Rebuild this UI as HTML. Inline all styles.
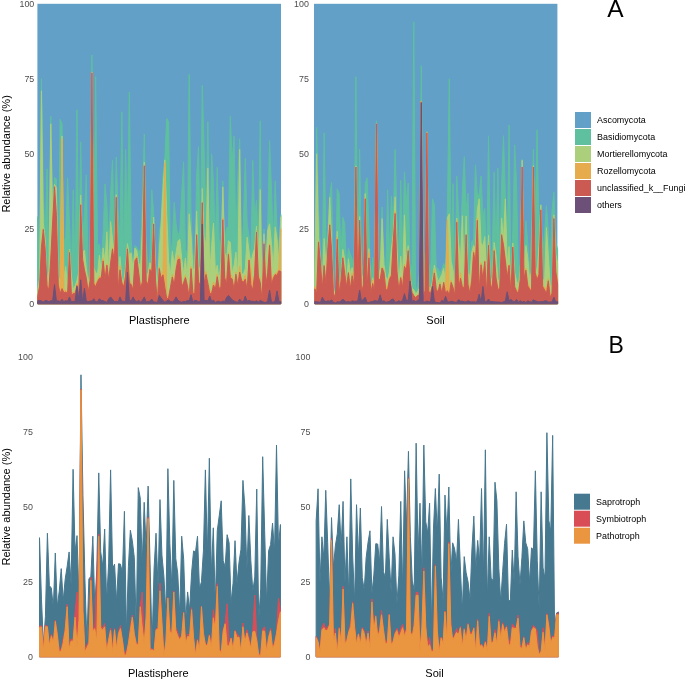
<!DOCTYPE html>
<html><head><meta charset="utf-8"><style>
html,body{margin:0;padding:0;background:#fff;}
body{width:685px;height:680px;overflow:hidden;}
svg{display:block;filter:blur(0.3px);}
text{font-family:"Liberation Sans", sans-serif;}
.tk{font-size:8.9px;fill:#4d4d4d;}
.ax{font-size:11px;fill:#000;}
.lg{font-size:8.95px;fill:#000;}
.tag{font-size:23px;fill:#000;}
</style></head><body>
<svg width="685" height="680" viewBox="0 0 685 680">
<g class="data" stroke-width="1" stroke-linejoin="round">
<rect x="37.4" y="3.8" width="243.60" height="300.00" fill="#62a0c8"/>
<path d="M37.70 303.80 37.70 216.70 39.57 272.96 41.44 78.80 43.31 193.54 45.18 237.01 47.05 168.80 48.92 267.05 50.79 116.30 52.66 213.77 54.53 177.55 56.40 178.83 58.27 273.30 60.14 119.30 62.01 123.80 63.88 242.38 65.75 236.54 67.62 177.80 69.49 223.09 71.36 270.69 73.23 189.80 75.10 274.49 76.97 109.70 78.84 253.11 80.71 141.80 82.58 240.39 84.45 212.85 86.32 174.80 88.19 275.63 90.06 264.74 91.93 54.80 93.80 237.42 95.67 76.70 97.54 247.65 99.41 243.80 101.28 259.93 103.15 233.20 105.02 183.80 106.89 204.20 108.76 241.07 110.63 193.46 112.50 160.40 114.37 241.67 116.24 156.80 118.11 209.76 119.98 241.58 121.85 111.80 123.72 263.37 125.59 149.30 127.46 223.64 129.33 92.00 131.20 239.58 133.07 267.50 134.94 245.56 136.81 247.00 138.68 251.34 140.55 249.47 142.42 203.37 144.29 134.00 146.16 241.51 148.03 267.80 149.90 255.84 151.77 189.80 153.64 212.91 155.51 262.04 157.38 285.80 159.25 232.94 161.12 220.92 162.99 175.50 164.86 157.70 166.73 118.40 168.60 122.00 170.47 261.05 172.34 240.80 174.21 202.30 176.08 224.04 177.95 236.66 179.82 230.57 181.69 193.40 183.56 161.76 185.43 249.80 187.30 253.00 189.17 74.30 191.04 214.32 192.91 254.12 194.78 262.06 196.65 176.00 198.52 146.73 200.39 259.98 202.26 85.40 204.13 149.30 206.00 221.55 207.87 121.84 209.74 256.65 211.61 153.80 213.48 183.34 215.35 240.42 217.22 167.24 219.09 238.61 220.96 245.89 222.83 180.80 224.70 242.54 226.57 227.86 228.44 226.66 230.31 116.30 232.18 162.09 234.05 136.10 235.92 236.42 237.79 180.44 239.66 138.80 241.53 259.96 243.40 223.50 245.27 158.30 247.14 223.16 249.01 236.44 250.88 257.52 252.75 160.40 254.62 217.69 256.49 200.24 258.36 241.69 260.23 120.80 262.10 294.80 263.97 229.03 265.84 262.57 267.71 225.15 269.58 140.60 271.45 188.18 273.32 242.57 275.19 180.80 277.06 231.09 278.93 249.61 280.80 214.51 280.80 303.80Z" fill="#5ec09e" stroke="#5ec09e"/>
<path d="M37.70 303.80 37.70 289.34 39.57 278.98 41.44 90.80 43.31 222.38 45.18 239.72 47.05 280.73 48.92 270.82 50.79 123.80 52.66 218.24 54.53 184.38 56.40 187.56 58.27 277.27 60.14 278.83 62.01 135.92 63.88 278.33 65.75 266.45 67.62 289.64 69.49 249.08 71.36 275.85 73.23 289.42 75.10 285.90 76.97 280.26 78.84 271.93 80.71 195.04 82.58 253.32 84.45 250.04 86.32 268.20 88.19 283.16 90.06 270.99 91.93 71.98 93.80 267.12 95.67 272.79 97.54 273.41 99.41 255.11 101.28 271.93 103.15 247.92 105.02 261.80 106.89 231.78 108.76 273.46 110.63 221.58 112.50 239.23 114.37 254.72 116.24 194.55 118.11 273.39 119.98 256.56 121.85 278.04 123.72 281.65 125.59 267.82 127.46 243.63 129.33 255.36 131.20 252.85 133.07 269.68 134.94 247.93 136.81 250.85 138.68 262.86 140.55 266.55 142.42 227.43 144.29 162.14 146.16 272.20 148.03 274.61 149.90 262.74 151.77 265.79 153.64 217.01 155.51 264.61 157.38 288.50 159.25 251.80 161.12 223.93 162.99 189.33 164.86 159.91 166.73 213.80 168.60 261.08 170.47 274.31 172.34 251.37 174.21 264.98 176.08 252.35 177.95 241.21 179.82 239.27 181.69 258.16 183.56 273.75 185.43 257.90 187.30 279.98 189.17 213.80 191.04 234.37 192.91 269.64 194.78 267.81 196.65 211.13 198.52 271.28 200.39 265.72 202.26 188.39 204.13 236.76 206.00 244.80 207.87 167.97 209.74 273.34 211.61 245.91 213.48 223.22 215.35 271.64 217.22 265.23 219.09 280.83 220.96 261.83 222.83 186.90 224.70 252.37 226.57 260.19 228.44 240.65 230.31 242.36 232.18 273.22 234.05 265.52 235.92 252.21 237.79 277.78 239.66 149.44 241.53 274.16 243.40 273.76 245.27 268.69 247.14 237.11 249.01 251.08 250.88 263.36 252.75 253.76 254.62 248.64 256.49 226.15 258.36 263.90 260.23 189.57 262.10 296.15 263.97 233.80 265.84 266.96 267.71 230.22 269.58 223.77 271.45 243.38 273.32 268.16 275.19 226.88 277.06 239.47 278.93 263.26 280.80 216.80 280.80 303.80Z" fill="#abcf7b" stroke="#abcf7b"/>
<path d="M37.70 303.80 37.70 295.69 39.57 285.71 41.44 245.80 43.31 228.87 45.18 248.18 47.05 284.44 48.92 286.63 50.79 257.86 52.66 221.30 54.53 186.10 56.40 215.10 58.27 279.21 60.14 292.45 62.01 138.80 63.88 289.90 65.75 290.37 67.62 293.00 69.49 250.27 71.36 292.41 73.23 292.26 75.10 292.12 76.97 283.15 78.84 293.52 80.71 203.72 82.58 257.40 84.45 269.03 86.32 277.61 88.19 290.62 90.06 279.91 91.93 72.54 93.80 281.92 95.67 284.06 97.54 279.64 99.41 276.27 101.28 276.88 103.15 258.39 105.02 274.38 106.89 263.68 108.76 278.94 110.63 261.46 112.50 247.79 114.37 261.71 116.24 196.51 118.11 288.18 119.98 265.69 121.85 281.28 123.72 284.83 125.59 273.15 127.46 247.67 129.33 278.89 131.20 283.32 133.07 289.03 134.94 259.46 136.81 256.40 138.68 272.21 140.55 286.33 142.42 281.50 144.29 165.19 146.16 279.17 148.03 283.91 149.90 268.57 151.77 270.77 153.64 223.03 155.51 279.30 157.38 301.89 159.25 267.05 161.12 277.12 162.99 271.79 164.86 162.80 166.73 297.23 168.60 295.47 170.47 286.74 172.34 274.40 174.21 283.52 176.08 267.11 177.95 255.43 179.82 258.55 181.69 285.21 183.56 282.02 185.43 275.23 187.30 284.65 189.17 296.50 191.04 266.72 192.91 291.07 194.78 291.77 196.65 234.01 198.52 281.50 200.39 280.73 202.26 201.90 204.13 282.79 206.00 271.51 207.87 281.39 209.74 290.64 211.61 292.17 213.48 282.14 215.35 288.37 217.22 274.26 219.09 287.36 220.96 283.78 222.83 217.88 224.70 276.68 226.57 282.47 228.44 252.71 230.31 274.07 232.18 276.39 234.05 289.19 235.92 271.93 237.79 283.40 239.66 266.18 241.53 279.71 243.40 281.10 245.27 275.27 247.14 289.87 249.01 259.26 250.88 268.70 252.75 286.89 254.62 273.34 256.49 230.40 258.36 275.21 260.23 278.16 262.10 299.74 263.97 241.26 265.84 284.03 267.71 271.18 269.58 243.96 271.45 282.08 273.32 275.77 275.19 273.47 277.06 272.75 278.93 268.01 280.80 228.80 280.80 303.80Z" fill="#e5ab4c" stroke="#e5ab4c"/>
<path d="M37.70 303.80 37.70 296.30 39.57 286.66 41.44 247.29 43.31 229.40 45.18 249.70 47.05 286.14 48.92 289.64 50.79 258.80 52.66 222.05 54.53 186.80 56.40 215.40 58.27 285.04 60.14 293.60 62.01 288.61 63.88 292.84 65.75 292.08 67.62 293.60 69.49 252.50 71.36 295.34 73.23 293.60 75.10 293.60 76.97 285.50 78.84 294.53 80.71 204.80 82.58 259.23 84.45 270.20 86.32 278.37 88.19 292.15 90.06 280.94 91.93 72.80 93.80 283.83 95.67 286.86 97.54 281.54 99.41 278.33 101.28 277.97 103.15 260.86 105.02 279.50 106.89 265.10 108.76 280.17 110.63 262.99 112.50 248.90 114.37 262.82 116.24 197.30 118.11 289.65 119.98 269.85 121.85 283.03 123.72 286.96 125.59 276.26 127.46 248.90 129.33 283.04 131.20 284.52 133.07 290.11 134.94 260.79 136.81 257.90 138.68 272.97 140.55 288.05 142.42 282.14 144.29 165.80 146.16 280.84 148.03 285.10 149.90 269.59 151.77 272.16 153.64 224.00 155.51 280.23 157.38 302.08 159.25 268.62 161.12 278.40 162.99 274.87 164.86 287.40 166.73 299.00 168.60 297.80 170.47 287.53 172.34 276.97 174.21 285.25 176.08 269.46 177.95 259.70 179.82 259.04 181.69 287.26 183.56 282.93 185.43 277.61 187.30 285.45 189.17 297.80 191.04 268.70 192.91 293.60 194.78 293.60 196.65 234.80 198.52 282.75 200.39 283.71 202.26 202.70 204.13 283.43 206.00 274.42 207.87 283.64 209.74 293.60 211.61 293.60 213.48 285.03 215.35 289.30 217.22 276.73 219.09 288.67 220.96 286.41 222.83 219.80 224.70 277.81 226.57 284.18 228.44 254.30 230.31 277.65 232.18 279.08 234.05 290.03 235.92 274.24 237.79 286.14 239.66 272.00 241.53 280.35 243.40 282.37 245.27 279.18 247.14 290.65 249.01 260.06 250.88 284.91 252.75 290.12 254.62 274.52 256.49 232.10 258.36 277.09 260.23 282.52 262.10 300.76 263.97 243.80 265.84 285.05 267.71 272.75 269.58 245.30 271.45 285.55 273.32 278.25 275.19 274.59 277.06 275.39 278.93 270.80 280.80 271.49 280.80 303.80Z" fill="#cb5b52" stroke="#cb5b52"/>
<path d="M37.70 303.80 37.70 300.93 39.57 300.41 41.44 300.95 43.31 302.19 45.18 300.31 47.05 300.83 48.92 301.70 50.79 300.69 52.66 300.91 54.53 284.60 56.40 301.24 58.27 300.72 60.14 301.84 62.01 299.30 63.88 301.65 65.75 300.67 67.62 301.22 69.49 296.90 71.36 301.87 73.23 301.48 75.10 301.25 76.97 286.40 78.84 299.81 80.71 279.80 82.58 302.54 84.45 288.20 86.32 301.41 88.19 301.61 90.06 301.06 91.93 301.06 93.80 298.69 95.67 302.08 97.54 301.57 99.41 298.69 101.28 300.62 103.15 300.60 105.02 301.68 106.89 302.37 108.76 298.87 110.63 296.90 112.50 299.35 114.37 301.80 116.24 301.32 118.11 301.98 119.98 296.90 121.85 301.17 123.72 301.23 125.59 301.67 127.46 272.00 129.33 300.33 131.20 300.96 133.07 296.90 134.94 300.52 136.81 301.67 138.68 300.35 140.55 302.05 142.42 300.30 144.29 296.90 146.16 302.16 148.03 301.52 149.90 301.21 151.77 299.00 153.64 302.00 155.51 302.08 157.38 302.70 159.25 295.40 161.12 298.04 162.99 300.49 164.86 302.37 166.73 301.02 168.60 299.90 170.47 301.51 172.34 301.89 174.21 300.50 176.08 296.90 177.95 300.33 179.82 301.55 181.69 302.29 183.56 301.36 185.43 301.73 187.30 300.47 189.17 301.08 191.04 294.80 192.91 302.13 194.78 300.34 196.65 300.58 198.52 301.77 200.39 301.26 202.26 224.00 204.13 300.81 206.00 300.35 207.87 301.02 209.74 296.00 211.61 301.48 213.48 300.13 215.35 302.54 217.22 301.38 219.09 301.23 220.96 302.26 222.83 300.95 224.70 301.78 226.57 297.46 228.44 295.40 230.31 297.56 232.18 299.91 234.05 300.90 235.92 301.93 237.79 302.31 239.66 299.11 241.53 301.36 243.40 301.80 245.27 296.00 247.14 301.42 249.01 300.38 250.88 301.23 252.75 301.25 254.62 301.82 256.49 300.81 258.36 302.03 260.23 300.59 262.10 301.28 263.97 302.31 265.84 302.54 267.71 300.65 269.58 290.00 271.45 302.01 273.32 302.16 275.19 300.68 277.06 290.90 278.93 301.67 280.80 301.55 280.80 303.80Z" fill="#6c5077" stroke="#6c5077"/>
<rect x="314" y="3.8" width="243.40" height="300.00" fill="#62a0c8"/>
<path d="M314.80 303.80 314.80 269.42 316.67 127.40 318.54 208.33 320.40 251.07 322.27 273.19 324.14 132.80 326.01 245.22 327.88 231.24 329.74 194.69 331.61 182.49 333.48 288.80 335.35 288.80 337.22 188.83 339.08 193.40 340.95 252.84 342.82 217.18 344.69 223.11 346.56 267.72 348.42 248.39 350.29 254.06 352.16 258.88 354.03 265.34 355.90 76.70 357.76 259.94 359.63 149.30 361.50 267.80 363.37 264.77 365.24 183.43 367.10 177.75 368.97 228.81 370.84 285.80 372.71 257.46 374.58 276.02 376.44 120.80 378.31 257.90 380.18 266.17 382.05 207.14 383.92 254.24 385.78 273.01 387.65 189.80 389.52 253.50 391.39 195.82 393.26 223.60 395.12 149.30 396.99 217.62 398.86 256.75 400.73 180.05 402.60 248.17 404.46 171.80 406.33 201.70 408.20 182.95 410.07 264.18 411.94 266.84 413.80 21.80 415.67 291.80 417.54 285.80 419.41 272.13 421.28 65.60 423.14 246.66 425.01 269.05 426.88 131.26 428.75 262.61 430.62 276.76 432.48 198.80 434.35 204.42 436.22 267.80 438.09 268.38 439.96 273.80 441.82 269.48 443.69 263.46 445.56 267.55 447.43 206.14 449.30 78.80 451.16 251.61 453.03 183.63 454.90 282.27 456.77 176.00 458.64 211.51 460.50 243.29 462.37 191.49 464.24 156.62 466.11 210.53 467.98 193.40 469.84 259.93 471.71 241.42 473.58 240.00 475.45 164.87 477.32 194.48 479.18 194.54 481.05 176.00 482.92 216.12 484.79 208.27 486.66 269.71 488.52 135.80 490.39 249.88 492.26 252.65 494.13 171.80 496.00 250.87 497.86 168.07 499.73 257.90 501.60 184.70 503.47 135.69 505.34 194.30 507.20 257.24 509.07 125.00 510.94 270.51 512.81 231.31 514.68 144.80 516.54 183.45 518.41 271.59 520.28 263.95 522.15 159.31 524.02 261.86 525.88 220.75 527.75 242.95 529.62 270.96 531.49 234.72 533.36 149.30 535.22 222.71 537.09 129.80 538.96 229.80 540.83 204.16 542.70 252.34 544.56 234.24 546.43 205.77 548.30 230.37 550.17 263.67 552.04 210.80 553.90 192.02 555.77 242.31 557.64 249.43 557.64 303.80Z" fill="#5ec09e" stroke="#5ec09e"/>
<path d="M314.80 303.80 314.80 274.49 316.67 153.80 318.54 236.75 320.40 258.32 322.27 284.11 324.14 238.46 326.01 266.03 327.88 244.36 329.74 197.34 331.61 240.92 333.48 291.05 335.35 291.05 337.22 231.31 339.08 287.65 340.95 277.33 342.82 249.25 344.69 259.11 346.56 283.26 348.42 258.71 350.29 272.65 352.16 267.63 354.03 276.25 355.90 165.83 357.76 279.36 359.63 216.56 361.50 273.20 363.37 281.94 365.24 193.58 367.10 276.35 368.97 248.67 370.84 288.50 372.71 277.71 374.58 286.56 376.44 122.99 378.31 267.62 380.18 275.69 382.05 218.51 383.92 264.48 385.78 276.49 387.65 280.53 389.52 271.28 391.39 248.87 393.26 234.46 395.12 196.79 396.99 247.96 398.86 286.02 400.73 256.20 402.60 278.90 404.46 214.86 406.33 262.93 408.20 245.67 410.07 276.28 411.94 288.37 413.80 289.68 415.67 293.60 417.54 292.01 419.41 287.87 421.28 100.82 423.14 263.27 425.01 286.73 426.88 132.16 428.75 286.75 430.62 288.64 432.48 281.45 434.35 264.94 436.22 273.20 438.09 281.69 439.96 278.30 441.82 274.57 443.69 268.39 445.56 283.37 447.43 217.54 449.30 213.80 451.16 261.17 453.03 269.86 454.90 285.96 456.77 218.19 458.64 243.13 460.50 260.24 462.37 215.72 464.24 280.48 466.11 215.92 467.98 273.11 469.84 276.53 471.71 252.50 473.58 245.38 475.45 248.42 477.32 209.74 479.18 198.80 481.05 242.71 482.92 246.06 484.79 236.62 486.66 275.41 488.52 235.22 490.39 276.32 492.26 282.45 494.13 242.50 496.00 254.95 497.86 278.92 499.73 283.37 501.60 218.17 503.47 239.47 505.34 198.80 507.20 264.22 509.07 246.57 510.94 288.56 512.81 243.04 514.68 272.37 516.54 280.91 518.41 285.94 520.28 270.02 522.15 160.21 524.02 269.43 525.88 245.52 527.75 257.71 529.62 279.29 531.49 271.81 533.36 165.56 535.22 264.23 537.09 274.34 538.96 245.47 540.83 205.06 542.70 278.38 544.56 282.86 546.43 227.55 548.30 255.17 550.17 285.04 552.04 285.51 553.90 214.82 555.77 253.96 557.64 263.68 557.64 303.80Z" fill="#abcf7b" stroke="#abcf7b"/>
<path d="M314.80 303.80 314.80 286.57 316.67 292.79 318.54 240.90 320.40 261.77 322.27 286.93 324.14 264.83 326.01 283.70 327.88 246.67 329.74 224.15 331.61 249.85 333.48 292.69 335.35 296.01 337.22 237.12 339.08 291.66 340.95 278.73 342.82 256.84 344.69 269.52 346.56 284.58 348.42 271.90 350.29 286.61 352.16 272.87 354.03 285.11 355.90 166.82 357.76 283.13 359.63 220.07 361.50 292.11 363.37 284.11 365.24 197.79 367.10 285.79 368.97 252.56 370.84 292.27 372.71 279.98 374.58 290.27 376.44 123.63 378.31 278.36 380.18 279.26 382.05 266.93 383.92 269.27 385.78 285.47 387.65 287.04 389.52 276.87 391.39 274.69 393.26 238.54 395.12 211.35 396.99 270.33 398.86 289.14 400.73 276.63 402.60 283.44 404.46 264.21 406.33 268.83 408.20 248.78 410.07 277.82 411.94 291.08 413.80 294.88 415.67 296.94 417.54 294.98 419.41 292.73 421.28 101.43 423.14 297.51 425.01 288.76 426.88 132.62 428.75 290.82 430.62 291.13 432.48 284.59 434.35 269.33 436.22 288.57 438.09 290.20 439.96 282.40 441.82 292.50 443.69 281.86 445.56 292.01 447.43 219.80 449.30 293.60 451.16 280.34 453.03 286.61 454.90 293.63 456.77 220.52 458.64 287.66 460.50 272.70 462.37 285.63 464.24 286.96 466.11 234.32 467.98 281.15 469.84 291.61 471.71 277.91 473.58 250.49 475.45 259.00 477.32 218.13 479.18 289.10 481.05 262.73 482.92 276.27 484.79 260.71 486.66 290.63 488.52 242.35 490.39 280.66 492.26 288.65 494.13 248.90 496.00 277.14 497.86 287.58 499.73 287.29 501.60 233.46 503.47 244.20 505.34 258.90 507.20 274.02 509.07 264.58 510.94 290.54 512.81 246.66 514.68 286.43 516.54 289.56 518.41 291.45 520.28 277.39 522.15 166.90 524.02 277.40 525.88 268.32 527.75 282.19 529.62 287.29 531.49 289.71 533.36 166.84 535.22 271.16 537.09 278.70 538.96 271.86 540.83 209.40 542.70 285.69 544.56 287.22 546.43 288.70 548.30 278.58 550.17 295.70 552.04 291.93 553.90 216.61 555.77 269.57 557.64 279.25 557.64 303.80Z" fill="#e5ab4c" stroke="#e5ab4c"/>
<path d="M314.80 303.80 314.80 288.85 316.67 293.60 318.54 242.00 320.40 262.67 322.27 288.24 324.14 265.61 326.01 284.38 327.88 247.48 329.74 224.90 331.61 251.12 333.48 293.55 335.35 297.89 337.22 239.30 339.08 293.17 340.95 281.44 342.82 257.90 344.69 273.70 346.56 287.02 348.42 272.68 350.29 289.37 352.16 275.74 354.03 285.64 355.90 167.00 357.76 284.45 359.63 220.40 361.50 292.75 363.37 285.10 365.24 198.80 367.10 287.89 368.97 257.90 370.84 293.24 372.71 283.49 374.58 292.11 376.44 123.80 378.31 279.23 380.18 279.81 382.05 268.03 383.92 272.04 385.78 290.00 387.65 289.56 389.52 279.23 391.39 275.75 393.26 242.00 395.12 213.50 396.99 271.60 398.86 290.85 400.73 277.59 402.60 287.67 404.46 266.42 406.33 270.49 408.20 250.70 410.07 280.10 411.94 292.45 413.80 295.72 415.67 297.69 417.54 295.60 419.41 295.04 421.28 101.90 423.14 298.14 425.01 290.67 426.88 132.80 428.75 291.79 430.62 293.11 432.48 285.50 434.35 272.93 436.22 289.56 438.09 292.06 439.96 284.11 441.82 293.86 443.69 282.46 445.56 293.29 447.43 290.66 449.30 295.26 451.16 282.35 453.03 287.53 454.90 295.55 456.77 222.20 458.64 289.45 460.50 278.21 462.37 287.18 464.24 287.90 466.11 234.80 467.98 284.65 469.84 293.30 471.71 281.13 473.58 252.50 475.45 263.48 477.32 220.40 479.18 290.50 481.05 264.74 482.92 279.64 484.79 261.50 486.66 294.81 488.52 245.30 490.39 283.83 492.26 290.20 494.13 250.70 496.00 278.04 497.86 289.40 499.73 288.53 501.60 234.80 503.47 245.26 505.34 260.85 507.20 277.57 509.07 265.36 510.94 293.60 512.81 247.10 514.68 286.96 516.54 291.19 518.41 293.21 520.28 279.68 522.15 167.00 524.02 279.09 525.88 270.21 527.75 285.92 529.62 288.94 531.49 292.12 533.36 167.00 535.22 272.73 537.09 280.04 538.96 274.53 540.83 209.90 542.70 286.75 544.56 289.69 546.43 293.83 548.30 280.78 550.17 297.80 552.04 293.36 553.90 218.60 555.77 271.99 557.64 284.21 557.64 303.80Z" fill="#cb5b52" stroke="#cb5b52"/>
<path d="M314.80 303.80 314.80 301.39 316.67 301.92 318.54 301.85 320.40 302.68 322.27 297.20 324.14 300.43 326.01 301.79 327.88 300.84 329.74 301.31 331.61 299.90 333.48 302.30 335.35 302.93 337.22 301.79 339.08 302.09 340.95 301.15 342.82 299.00 344.69 301.07 346.56 301.97 348.42 301.44 350.29 302.15 352.16 300.77 354.03 301.39 355.90 301.27 357.76 301.19 359.63 290.00 361.50 301.72 363.37 299.25 365.24 297.20 367.10 302.57 368.97 302.47 370.84 301.68 372.71 301.44 374.58 300.51 376.44 300.89 378.31 301.37 380.18 294.80 382.05 301.67 383.92 300.74 385.78 302.28 387.65 301.85 389.52 301.34 391.39 299.56 393.26 299.00 395.12 302.25 396.99 301.95 398.86 300.63 400.73 301.72 402.60 300.21 404.46 293.60 406.33 300.45 408.20 300.56 410.07 281.00 411.94 301.42 413.80 300.35 415.67 301.65 417.54 300.60 419.41 299.25 421.28 102.80 423.14 301.75 425.01 302.08 426.88 300.97 428.75 301.69 430.62 301.68 432.48 286.40 434.35 300.97 436.22 302.55 438.09 302.48 439.96 303.07 441.82 300.37 443.69 301.48 445.56 296.30 447.43 301.55 449.30 302.06 451.16 301.13 453.03 301.60 454.90 302.34 456.77 302.14 458.64 299.61 460.50 301.24 462.37 301.19 464.24 301.75 466.11 302.03 467.98 300.72 469.84 301.62 471.71 302.07 473.58 301.65 475.45 302.16 477.32 301.39 479.18 294.20 481.05 302.12 482.92 286.40 484.79 302.01 486.66 301.42 488.52 299.00 490.39 301.71 492.26 301.50 494.13 301.86 496.00 302.03 497.86 302.02 499.73 302.11 501.60 302.50 503.47 301.74 505.34 301.20 507.20 291.80 509.07 300.97 510.94 299.25 512.81 301.28 514.68 301.88 516.54 299.45 518.41 302.24 520.28 300.63 522.15 302.18 524.02 301.24 525.88 302.67 527.75 300.71 529.62 301.66 531.49 302.19 533.36 299.74 535.22 300.85 537.09 301.51 538.96 302.06 540.83 301.58 542.70 301.67 544.56 300.89 546.43 300.82 548.30 302.01 550.17 301.94 552.04 301.93 553.90 297.20 555.77 301.96 557.64 301.61 557.64 303.80Z" fill="#6c5077" stroke="#6c5077"/>
<path d="M39.50 656.80 39.50 537.70 41.48 599.15 43.45 644.80 45.42 616.22 47.40 533.20 49.38 585.58 51.35 588.12 53.33 607.62 55.30 553.00 57.28 606.69 59.25 591.09 61.23 568.60 63.20 600.84 65.17 579.32 67.15 566.44 69.12 551.93 71.10 585.03 73.08 469.30 75.05 551.68 77.03 535.60 79.00 602.32 80.97 374.80 82.95 495.70 84.93 579.42 86.90 641.80 88.88 579.01 90.85 576.29 92.83 536.20 94.80 607.00 96.78 569.93 98.75 472.90 100.72 551.80 102.70 566.48 104.67 529.00 106.65 600.80 108.62 563.87 110.60 469.90 112.58 568.70 114.55 564.10 116.53 601.63 118.50 563.78 120.48 564.10 122.45 573.13 124.42 511.30 126.40 632.37 128.38 566.81 130.35 530.20 132.32 540.70 134.30 557.54 136.28 628.42 138.25 487.60 140.23 497.80 142.20 564.82 144.18 502.30 146.15 547.97 148.12 486.10 150.10 564.35 152.07 644.80 154.05 569.06 156.03 533.20 158.00 587.15 159.98 499.60 161.95 555.26 163.93 576.72 165.90 614.36 167.88 468.70 169.85 543.29 171.83 587.80 173.80 480.40 175.78 558.52 177.75 573.65 179.72 613.86 181.70 536.20 183.68 559.39 185.65 620.80 187.62 591.93 189.60 609.84 191.58 572.80 193.55 550.90 195.53 551.91 197.50 536.20 199.47 588.86 201.45 581.71 203.43 550.73 205.40 469.90 207.38 554.44 209.35 458.20 211.33 573.07 213.30 527.80 215.28 603.95 217.25 530.80 219.22 515.80 221.20 500.80 223.18 560.61 225.15 566.92 227.12 534.70 229.10 542.80 231.08 602.67 233.05 583.30 235.03 540.70 237.00 583.73 238.98 562.60 240.95 549.34 242.93 480.40 244.90 506.80 246.88 570.59 248.85 515.50 250.83 560.46 252.80 591.36 254.78 577.05 256.75 489.10 258.73 619.41 260.70 588.94 262.68 456.70 264.65 530.80 266.62 602.78 268.60 550.90 270.58 544.69 272.55 523.00 274.52 552.02 276.50 445.00 278.48 545.71 280.45 524.50 280.45 656.80Z" fill="#46788f" stroke="#46788f"/>
<path d="M39.50 656.80 39.50 625.93 41.48 626.04 43.45 646.52 45.42 625.10 47.40 625.98 49.38 644.94 51.35 634.39 53.33 642.10 55.30 620.05 57.28 633.11 59.25 650.19 61.23 649.33 63.20 638.57 65.17 629.17 67.15 604.30 69.12 647.64 71.10 638.87 73.08 640.51 75.05 612.86 77.03 592.00 79.00 618.25 80.97 388.94 82.95 609.19 84.93 649.64 86.90 645.15 88.88 640.97 90.85 577.19 92.83 629.05 94.80 627.12 96.78 575.80 98.75 534.05 100.72 626.51 102.70 627.85 104.67 623.55 106.65 650.12 108.62 638.95 110.60 627.96 112.58 648.19 114.55 628.47 116.53 647.66 118.50 632.21 120.48 625.49 122.45 639.79 124.42 653.92 126.40 651.10 128.38 642.97 130.35 626.58 132.32 615.13 134.30 633.13 136.28 642.50 138.25 644.41 140.23 605.63 142.20 592.00 144.18 642.75 146.15 612.53 148.12 517.07 150.10 648.07 152.07 648.70 154.05 650.79 156.03 628.73 158.00 627.76 159.98 583.30 161.95 622.12 163.93 654.14 165.90 640.98 167.88 597.46 169.85 630.31 171.83 631.28 173.80 590.87 175.78 627.71 177.75 632.30 179.72 638.51 181.70 635.28 183.68 612.01 185.65 642.93 187.62 633.92 189.60 635.33 191.58 607.61 193.55 636.65 195.53 653.46 197.50 639.21 199.47 649.56 201.45 606.01 203.43 632.79 205.40 643.65 207.38 645.05 209.35 634.69 211.33 646.82 213.30 609.70 215.28 625.04 217.25 583.68 219.22 648.88 221.20 650.50 223.18 629.53 225.15 622.80 227.12 603.70 229.10 644.79 231.08 637.81 233.05 648.21 235.03 630.26 237.00 634.20 238.98 636.08 240.95 651.57 242.93 622.99 244.90 642.00 246.88 629.80 248.85 636.63 250.83 646.90 252.80 630.43 254.78 595.00 256.75 637.91 258.73 654.37 260.70 653.13 262.68 628.76 264.65 626.87 266.62 651.05 268.60 636.52 270.58 628.29 272.55 647.75 274.52 642.33 276.50 632.02 278.48 598.00 280.45 610.79 280.45 656.80Z" fill="#d94e56" stroke="#d94e56"/>
<path d="M39.50 656.80 39.50 627.36 41.48 627.11 43.45 650.80 45.42 626.80 47.40 626.80 49.38 645.88 51.35 635.84 53.33 643.00 55.30 621.40 57.28 634.73 59.25 652.24 61.23 650.80 63.20 642.99 65.17 630.26 67.15 606.70 69.12 649.29 71.10 641.06 73.08 641.25 75.05 617.20 77.03 645.81 79.00 619.79 80.97 389.80 82.95 610.16 84.93 651.75 86.90 647.86 88.88 643.33 90.85 580.30 92.83 631.36 94.80 628.64 96.78 641.53 98.75 536.20 100.72 627.93 102.70 630.17 104.67 626.81 106.65 651.85 108.62 640.16 110.60 630.27 112.58 652.62 114.55 629.80 116.53 649.08 118.50 633.59 120.48 628.62 122.45 640.31 124.42 655.79 126.40 654.17 128.38 643.89 130.35 630.25 132.32 617.20 134.30 634.22 136.28 644.19 138.25 645.01 140.23 606.70 142.20 626.80 144.18 643.63 146.15 616.96 148.12 518.50 150.10 650.80 152.07 649.60 154.05 651.30 156.03 629.80 158.00 629.44 159.98 590.80 161.95 622.79 163.93 656.02 165.90 642.00 167.88 598.00 169.85 631.31 171.83 633.80 173.80 592.00 175.78 630.35 177.75 636.06 179.72 640.04 181.70 636.05 183.68 612.70 185.65 644.41 187.62 636.47 189.60 637.10 191.58 609.70 193.55 637.80 195.53 655.26 197.50 640.35 199.47 650.80 201.45 606.70 203.43 633.38 205.40 644.78 207.38 645.83 209.35 635.53 211.33 649.07 213.30 617.80 215.28 629.47 217.25 586.30 219.22 649.91 221.20 652.89 223.18 631.39 225.15 623.80 227.12 645.93 229.10 645.74 231.08 638.32 233.05 650.63 235.03 631.30 237.00 637.87 238.98 637.09 240.95 652.31 242.93 626.80 244.90 642.79 246.88 632.80 248.85 640.22 250.83 648.51 252.80 631.86 254.78 631.30 256.75 640.40 258.73 655.30 260.70 655.30 262.68 630.88 264.65 631.29 266.62 652.28 268.60 637.39 270.58 630.63 272.55 648.93 274.52 644.12 276.50 633.65 278.48 620.80 280.45 611.80 280.45 656.80Z" fill="#ea953f" stroke="#ea953f"/>
<path d="M316.14 656.80 316.14 520.90 318.06 488.80 319.99 583.20 321.91 536.80 323.83 558.16 325.75 490.30 327.68 542.69 329.60 600.82 331.52 517.60 333.45 567.47 335.37 545.88 337.29 533.80 339.22 504.70 341.14 547.30 343.06 501.40 344.99 583.34 346.91 536.80 348.83 597.78 350.75 478.90 352.68 555.94 354.60 602.14 356.52 504.70 358.45 556.70 360.37 508.00 362.29 577.68 364.21 590.26 366.14 557.80 368.06 542.24 369.98 530.80 371.91 593.79 373.83 574.89 375.75 543.70 377.68 544.01 379.60 562.59 381.52 506.50 383.44 571.58 385.37 577.58 387.29 519.40 389.21 557.80 391.14 592.22 393.06 536.80 394.98 554.10 396.91 603.78 398.83 575.27 400.75 501.40 402.67 589.86 404.60 470.80 406.52 526.33 408.44 451.30 410.37 536.80 412.29 580.99 414.21 589.91 416.14 443.20 418.06 554.55 419.98 503.20 421.90 576.42 423.83 445.00 425.75 521.80 427.67 533.03 429.60 503.20 431.52 624.88 433.44 529.10 435.37 488.50 437.29 533.80 439.21 474.10 441.13 577.16 443.06 601.02 444.98 495.10 446.90 533.80 448.83 487.00 450.75 576.08 452.67 542.80 454.60 548.80 456.52 562.24 458.44 519.40 460.37 566.94 462.29 611.59 464.21 556.60 466.13 572.81 468.06 581.80 469.98 599.25 471.90 550.00 473.83 516.10 475.75 570.80 477.67 540.40 479.60 561.72 481.52 488.50 483.44 576.68 485.36 449.80 487.29 600.09 489.21 536.80 491.13 578.15 493.06 580.51 494.98 482.20 496.90 500.80 498.82 568.32 500.75 601.90 502.67 571.32 504.59 543.36 506.52 524.20 508.44 600.75 510.36 600.27 512.29 550.00 514.21 583.35 516.13 491.80 518.05 556.60 519.98 585.09 521.90 557.47 523.82 520.90 525.75 542.80 527.67 548.80 529.59 582.52 531.52 547.77 533.44 549.83 535.36 470.80 537.28 560.71 539.21 610.35 541.13 491.80 543.05 567.91 544.98 578.34 546.90 432.70 548.82 520.30 550.75 531.40 552.67 435.40 554.59 628.54 556.51 613.06 558.44 611.93 558.44 656.80Z" fill="#46788f" stroke="#46788f"/>
<path d="M316.14 656.80 316.14 636.25 318.06 640.29 319.99 650.29 321.91 627.18 323.83 623.26 325.75 629.55 327.68 626.54 329.60 624.00 331.52 538.20 333.45 641.14 335.37 628.61 337.29 651.35 339.22 627.38 341.14 640.94 343.06 586.30 344.99 642.64 346.91 639.10 348.83 630.85 350.75 622.21 352.68 601.72 354.60 624.73 356.52 643.82 358.45 633.28 360.37 643.39 362.29 627.44 364.21 630.92 366.14 644.10 368.06 630.97 369.98 644.88 371.91 598.90 373.83 628.74 375.75 615.43 377.68 634.77 379.60 629.30 381.52 610.40 383.44 628.60 385.37 642.19 387.29 640.19 389.21 614.03 391.14 643.21 393.06 641.12 394.98 632.88 396.91 628.14 398.83 635.18 400.75 628.64 402.67 624.13 404.60 633.40 406.52 628.49 408.44 477.61 410.37 630.53 412.29 635.72 414.21 621.04 416.14 592.30 418.06 592.30 419.98 649.49 421.90 625.10 423.83 567.75 425.75 625.77 427.67 645.33 429.60 637.30 431.52 651.33 433.44 648.72 435.37 564.64 437.29 630.27 439.21 649.48 441.13 637.24 443.06 641.97 444.98 610.99 446.90 640.35 448.83 541.90 450.75 622.01 452.67 639.58 454.60 635.07 456.52 628.48 458.44 633.71 460.37 626.21 462.29 645.25 464.21 628.35 466.13 638.52 468.06 623.38 469.98 631.94 471.90 633.00 473.83 627.37 475.75 648.89 477.67 619.37 479.60 645.83 481.52 643.93 483.44 648.35 485.36 640.91 487.29 650.09 489.21 613.30 491.13 642.52 493.06 640.98 494.98 629.67 496.90 642.45 498.82 619.46 500.75 635.61 502.67 622.54 504.59 630.61 506.52 625.51 508.44 638.92 510.36 643.46 512.29 623.80 514.21 626.32 516.13 627.87 518.05 615.19 519.98 644.37 521.90 647.29 523.82 636.57 525.75 649.85 527.67 642.41 529.59 645.29 531.52 629.96 533.44 625.37 535.36 627.81 537.28 631.30 539.21 654.04 541.13 650.65 543.05 627.75 544.98 649.46 546.90 613.58 548.82 624.01 550.75 643.34 552.67 635.78 554.59 636.97 556.51 613.96 558.44 612.83 558.44 656.80Z" fill="#d94e56" stroke="#d94e56"/>
<path d="M316.14 656.80 316.14 637.63 318.06 641.87 319.99 652.75 321.91 629.82 323.83 627.69 325.75 631.00 327.68 629.80 329.60 625.03 331.52 540.40 333.45 642.79 335.37 632.96 337.29 653.57 339.22 628.56 341.14 643.12 343.06 589.00 344.99 643.92 346.91 640.39 348.83 631.73 350.75 626.64 352.68 603.40 354.60 627.50 356.52 644.59 358.45 634.09 360.37 644.80 362.29 628.85 364.21 633.43 366.14 644.95 368.06 633.11 369.98 648.73 371.91 601.90 373.83 631.42 375.75 616.30 377.68 636.68 379.60 631.23 381.52 614.80 383.44 629.62 385.37 643.90 387.29 643.09 389.21 614.80 391.14 644.75 393.06 642.04 394.98 633.90 396.91 630.47 398.83 637.54 400.75 633.07 402.67 627.68 404.60 636.75 406.52 629.89 408.44 478.90 410.37 632.21 412.29 636.23 414.21 625.22 416.14 595.30 418.06 595.30 419.98 650.66 421.90 627.71 423.83 571.00 425.75 627.00 427.67 647.32 429.60 644.55 431.52 652.17 433.44 650.41 435.37 566.20 437.29 630.88 439.21 652.44 441.13 637.84 443.06 643.73 444.98 611.80 446.90 641.29 448.83 543.70 450.75 624.34 452.67 640.30 454.60 636.43 456.52 632.35 458.44 634.71 460.37 627.70 462.29 647.52 464.21 629.43 466.13 640.54 468.06 624.40 469.98 634.25 471.90 634.58 473.83 628.23 475.75 652.43 477.67 620.80 479.60 647.12 481.52 644.80 483.44 649.50 485.36 642.34 487.29 651.77 489.21 616.30 491.13 643.21 493.06 642.21 494.98 632.78 496.90 644.14 498.82 621.40 500.75 639.55 502.67 624.40 504.59 632.61 506.52 626.99 508.44 643.30 510.36 646.30 512.29 627.70 514.21 628.42 516.13 628.63 518.05 618.10 519.98 646.63 521.90 648.66 523.82 637.75 525.75 650.36 527.67 644.80 529.59 646.70 531.52 631.22 533.44 627.70 535.36 628.82 537.28 646.36 539.21 655.03 541.13 651.32 543.05 632.18 544.98 650.80 546.90 614.80 548.82 626.59 550.75 643.85 552.67 637.25 554.59 638.49 556.51 614.80 558.44 614.80 558.44 656.80Z" fill="#ea953f" stroke="#ea953f"/>
</g>
<text x="34.3" y="306.95" text-anchor="end" class="tk">0</text>
<text x="34.3" y="231.95" text-anchor="end" class="tk">25</text>
<text x="34.3" y="156.95" text-anchor="end" class="tk">50</text>
<text x="34.3" y="81.95" text-anchor="end" class="tk">75</text>
<text x="34.3" y="6.95" text-anchor="end" class="tk">100</text>
<text x="308.9" y="306.95" text-anchor="end" class="tk">0</text>
<text x="308.9" y="231.95" text-anchor="end" class="tk">25</text>
<text x="308.9" y="156.95" text-anchor="end" class="tk">50</text>
<text x="308.9" y="81.95" text-anchor="end" class="tk">75</text>
<text x="308.9" y="6.95" text-anchor="end" class="tk">100</text>
<text x="32.9" y="659.95" text-anchor="end" class="tk">0</text>
<text x="32.9" y="584.95" text-anchor="end" class="tk">25</text>
<text x="32.9" y="509.95" text-anchor="end" class="tk">50</text>
<text x="32.9" y="434.95" text-anchor="end" class="tk">75</text>
<text x="32.9" y="359.95" text-anchor="end" class="tk">100</text>
<text x="310.4" y="659.95" text-anchor="end" class="tk">0</text>
<text x="310.4" y="584.95" text-anchor="end" class="tk">25</text>
<text x="310.4" y="509.95" text-anchor="end" class="tk">50</text>
<text x="310.4" y="434.95" text-anchor="end" class="tk">75</text>
<text x="310.4" y="359.95" text-anchor="end" class="tk">100</text>
<text x="159.3" y="323.9" text-anchor="middle" class="ax">Plastisphere</text>
<text x="435.5" y="323.9" text-anchor="middle" class="ax">Soil</text>
<text x="158.3" y="677" text-anchor="middle" class="ax">Plastisphere</text>
<text x="434.5" y="677" text-anchor="middle" class="ax">Soil</text>
<text transform="translate(9.9,153.9) rotate(-90)" text-anchor="middle" class="ax">Relative abundance (%)</text>
<text transform="translate(9.9,506.8) rotate(-90)" text-anchor="middle" class="ax">Relative abundance (%)</text>
<text x="615.4" y="17.1" text-anchor="middle" class="tag" style="font-size:24.5px">A</text>
<text x="616.2" y="352.8" text-anchor="middle" class="tag">B</text>
<rect x="575" y="112" width="16" height="16" fill="#62a0c8"/>
<text x="597" y="123.20" class="lg">Ascomycota</text>
<rect x="575" y="129" width="16" height="16" fill="#5ec09e"/>
<text x="597" y="140.20" class="lg">Basidiomycota</text>
<rect x="575" y="146" width="16" height="16" fill="#abcf7b"/>
<text x="597" y="157.20" class="lg">Mortierellomycota</text>
<rect x="575" y="163" width="16" height="16" fill="#e5ab4c"/>
<text x="597" y="174.20" class="lg">Rozellomycota</text>
<rect x="575" y="180" width="16" height="16" fill="#cb5b52"/>
<text x="597" y="191.20" class="lg">unclassified_k__Fungi</text>
<rect x="575" y="197" width="16" height="16" fill="#6c5077"/>
<text x="597" y="208.20" class="lg">others</text>
<rect x="574" y="493.7" width="16" height="16" fill="#46788f"/>
<text x="596" y="504.90" class="lg">Saprotroph</text>
<rect x="574" y="510.7" width="16" height="16" fill="#d94e56"/>
<text x="596" y="521.90" class="lg">Symbiotroph</text>
<rect x="574" y="527.7" width="16" height="16" fill="#ea953f"/>
<text x="596" y="538.90" class="lg">Pathotroph</text>
</svg>
</body></html>
